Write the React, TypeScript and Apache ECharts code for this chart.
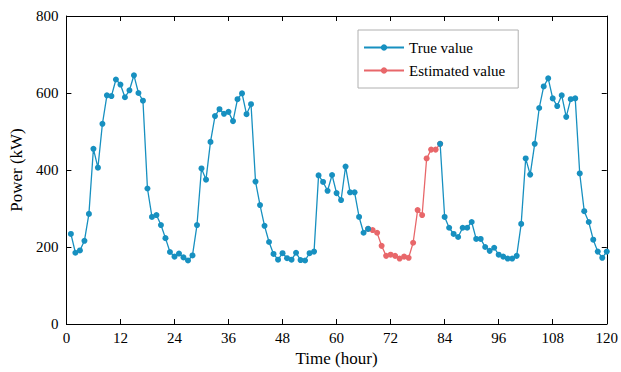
import React, { useEffect, useRef } from "react";
import * as echarts from "echarts";

const hours: number[] = Array.from({ length: 120 }, (_, i) => i + 1);

const trueValues: (number | null)[] = [
  234, 185, 191, 216, 286, 455, 406, 520, 594, 592,
  635, 622, 589, 607, 646, 600, 580, 352, 278, 283,
  257, 223, 187, 175, 183, 173, 165, 178, 257, 404,
  375, 473, 540, 558, 546, 551, 527, 584, 599, 545,
  571, 370, 309, 255, 213, 182, 167, 184, 171, 167,
  185, 166, 165, 184, 188, 386, 369, 346, 387, 340,
  322, 409, 342, 342, 278, 237, 247, null, null, null,
  null, null, null, null, null, null, null, null, null, null,
  null, null, 468, 278, 250, 234, 226, 250, 250, 265,
  221, 221, 200, 190, 198, 180, 175, 170, 170, 177,
  260, 430, 388, 468, 561, 617, 638, 586, 566, 594,
  538, 584, 586, 391, 293, 265, 219, 188, 172, 188,
];

const estimatedHours: number[] = [67, 68, 69, 70, 71, 72, 73, 74, 75, 76, 77, 78, 79, 80, 81, 82, 83];
const estimatedValues: number[] = [247, 244, 237, 203, 177, 180, 177, 170, 175, 172, 211, 296, 283, 430, 453, 453, 468];

const xTicks = { min: 0, max: 120, interval: 12 };
const yTicks = { min: 0, max: 800, interval: 200 };

const BLUE = "#1790c0";
const RED = "#e8676a";
const FONT = "Liberation Serif";

export default function App() {
  const ref = useRef<HTMLDivElement>(null);
  useEffect(() => {
    if (!ref.current) return;
    const chart = echarts.init(ref.current, undefined, { renderer: "svg" });
    const axisCommon = {
      axisLine: { show: true, onZero: false, lineStyle: { color: "#000", width: 1 } },
      axisTick: { show: true, inside: true, length: 5, lineStyle: { color: "#000" } },
      splitLine: { show: false },
    };
    chart.setOption({
      animation: false,
      backgroundColor: "#fff",
      textStyle: { fontFamily: FONT },
      grid: { left: 63, right: 10, top: 16, bottom: 45, containLabel: false },
      legend: {
        orient: "vertical",
        left: 358,
        top: 30,
        padding: [10, 13, 10, 5],
        itemGap: 8,
        itemWidth: 40,
        itemHeight: 8,
        borderColor: "#b0b0b0",
        borderWidth: 1,
        backgroundColor: "#fff",
        textStyle: { fontFamily: FONT, fontSize: 15, color: "#000", fontWeight: "normal" },
        data: ["True value", "Estimated value"],
      },
      xAxis: [
        {
          type: "value",
          ...xTicks,
          name: "Time (hour)",
          nameLocation: "middle",
          nameGap: 26,
          nameTextStyle: { fontFamily: FONT, fontSize: 17, color: "#000", fontWeight: "normal" },
          axisLabel: { fontFamily: FONT, fontSize: 15, color: "#000", margin: 6 },
          ...axisCommon,
        },
        {
          type: "value",
          position: "top",
          ...xTicks,
          axisLabel: { show: false },
          ...axisCommon,
        },
      ],
      yAxis: [
        {
          type: "value",
          ...yTicks,
          name: "Power (kW)",
          nameLocation: "middle",
          nameGap: 36,
          nameTextStyle: { fontFamily: FONT, fontSize: 17, color: "#000", fontWeight: "normal" },
          axisLabel: { fontFamily: FONT, fontSize: 15, color: "#000", margin: 8 },
          ...axisCommon,
        },
        {
          type: "value",
          position: "right",
          ...yTicks,
          axisLabel: { show: false },
          ...axisCommon,
        },
      ],
      series: [
        {
          name: "Estimated value",
          type: "line",
          data: estimatedHours.map((h, i) => [h, estimatedValues[i]]),
          symbol: "circle",
          symbolSize: 6,
          showAllSymbol: true,
          itemStyle: { color: RED },
          lineStyle: { color: RED, width: 1.3 },
          z: 2,
        },
        {
          name: "True value",
          type: "line",
          data: hours.map((h, i) => [h, trueValues[i]]),
          connectNulls: false,
          symbol: "circle",
          symbolSize: 6,
          showAllSymbol: true,
          itemStyle: { color: BLUE },
          lineStyle: { color: BLUE, width: 1.3 },
          z: 3,
        },
      ],
    });
    return () => chart.dispose();
  }, []);
  return <div ref={ref} style={{ width: 621, height: 372, position: "absolute", left: 0, top: 0 }} />;
}
